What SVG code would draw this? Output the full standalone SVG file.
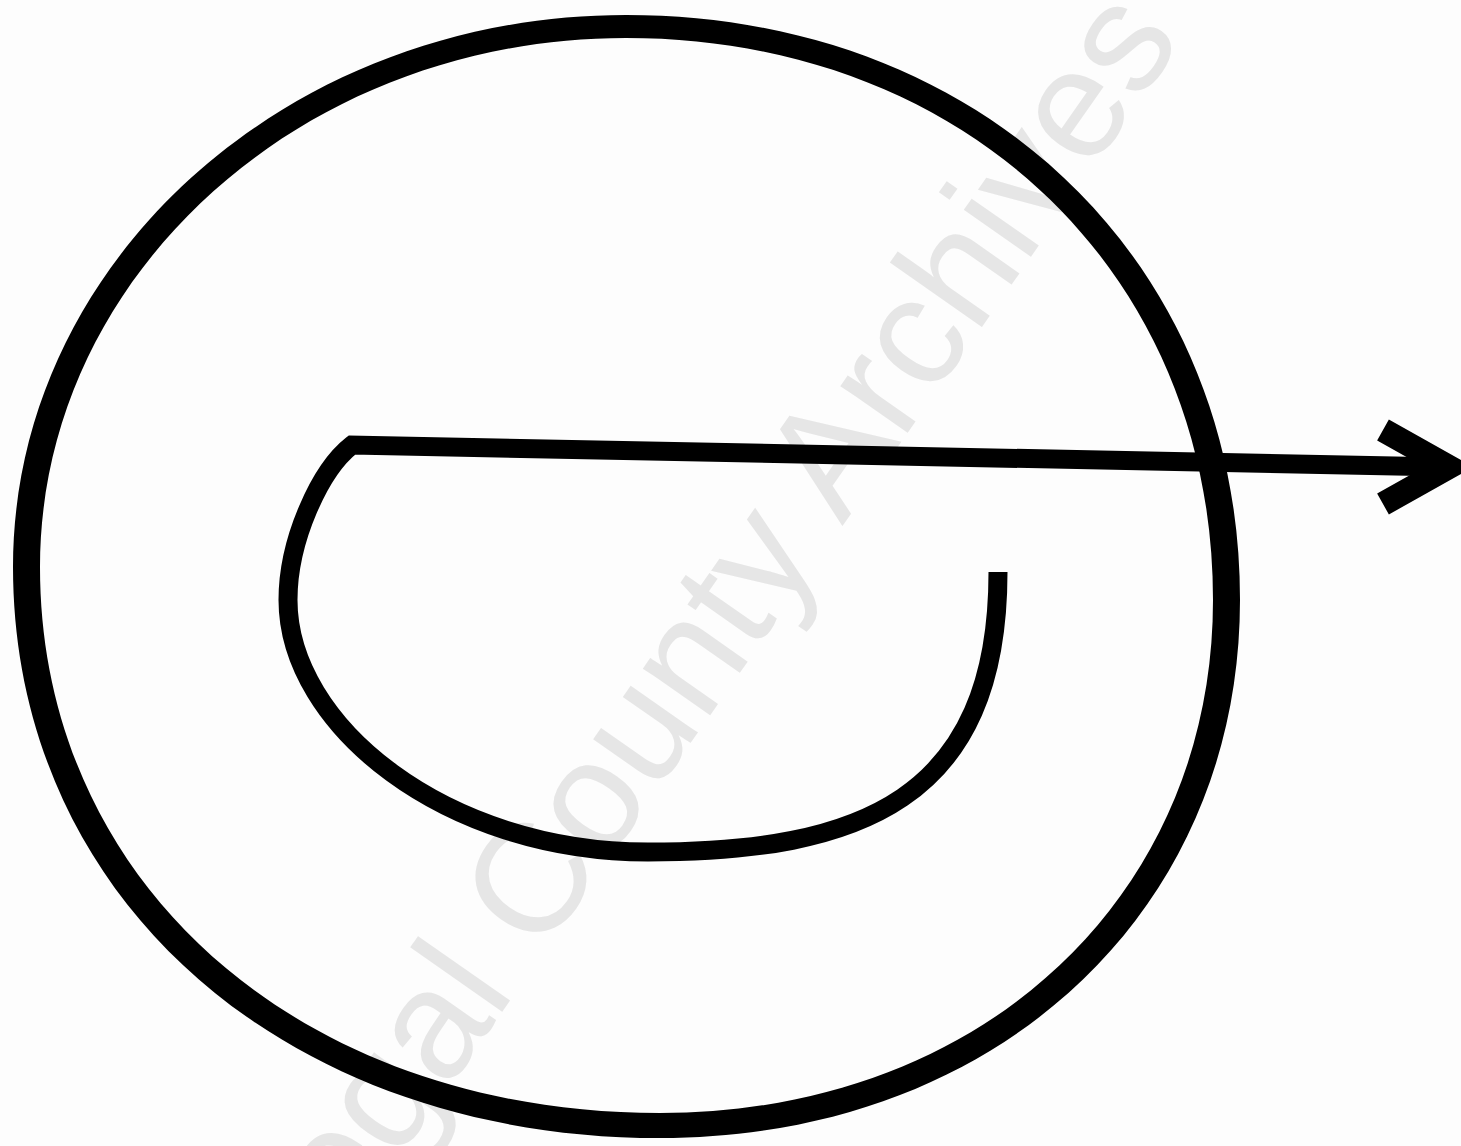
<svg xmlns="http://www.w3.org/2000/svg" width="1461" height="1146" viewBox="0 0 1461 1146">
<style>
.ink{fill:none;stroke:#000;stroke-linecap:butt;stroke-linejoin:miter}
.wm{font-family:"Liberation Sans",Arial,sans-serif;font-size:155px;fill:#e6e6e6}
</style>
<rect width="1461" height="1146" fill="#fdfdfd"/>
<text class="wm" transform="translate(505,1008) rotate(-55)" x="-558" y="0">Donegal County Archives</text>
<g id="ring">
<path fill="#000" fill-rule="evenodd" d="M13,567 C13,262.1 287.4,15 626,15 C982.1,15 1240,260.7 1240,600 C1240,912 996.4,1138 660,1138 C284.7,1138 13,898.2 13,567 Z M40,567 C40,274.8 302.4,38 626,38 C966.5,38 1213,274 1213,600 C1213,897.5 980.7,1113 660,1113 C300.4,1113 40,883.7 40,567 Z"/>
</g>
<g id="spiral">
<path class="ink" stroke-width="19" d="M1445,467 L352,445 C320,470 288,540 288,600 C288,725 445,852 648,852 C860,852 998,800 998,572"/>
</g>
<g id="connectors">
<polyline class="ink" stroke-width="24" stroke-linecap="round" stroke-linejoin="round" points="1383,430 1449,467 1383,504"/>
</g>
</svg>
